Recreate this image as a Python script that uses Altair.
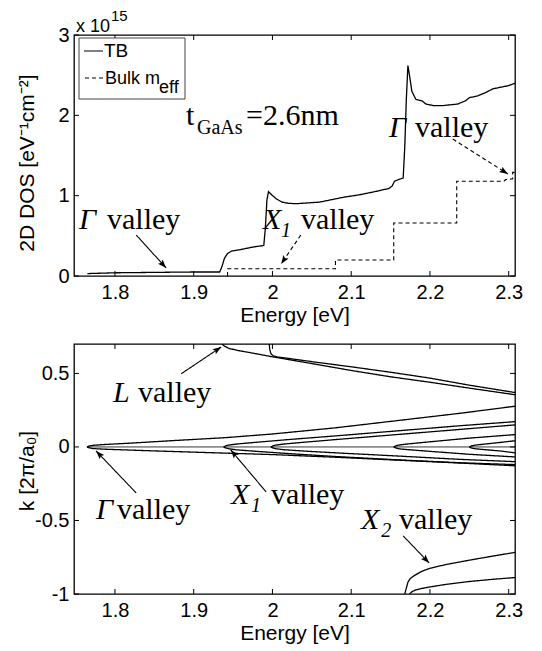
import math
import altair as alt
import pandas as pd

# ---------------- top panel: 2D DOS (units of 1e15 eV^-1 cm^-2) ----------------
tb_E = [1.765, 1.80, 1.85, 1.90, 1.933, 1.936, 1.939, 1.943, 1.948, 1.96, 1.975, 1.989,
        1.991, 1.993, 1.995, 1.999, 2.005, 2.012, 2.02, 2.03, 2.045, 2.06, 2.075, 2.09,
        2.11, 2.13, 2.148, 2.152, 2.155, 2.16, 2.166, 2.168, 2.170, 2.172, 2.174, 2.177,
        2.182, 2.19, 2.195, 2.205, 2.215, 2.225, 2.235, 2.245, 2.25, 2.26, 2.27, 2.28,
        2.29, 2.30, 2.308]
tb_dos = [0.03, 0.04, 0.045, 0.05, 0.05, 0.12, 0.22, 0.28, 0.31, 0.33, 0.36, 0.38,
          0.60, 0.95, 1.05, 1.01, 0.96, 0.92, 0.905, 0.90, 0.91, 0.92, 0.95, 0.98,
          1.01, 1.05, 1.09, 1.12, 1.18, 1.20, 1.22, 1.60, 2.20, 2.62, 2.50, 2.30,
          2.20, 2.18, 2.14, 2.12, 2.12, 2.13, 2.14, 2.18, 2.22, 2.24, 2.28, 2.33,
          2.35, 2.37, 2.40]

bulk_E = [1.943, 1.943, 2.080, 2.080, 2.154, 2.154, 2.234, 2.234, 2.294, 2.296, 2.305, 2.305, 2.308]
bulk_dos = [0.0, 0.09, 0.09, 0.20, 0.20, 0.66, 0.66, 1.18, 1.18, 1.20, 1.21, 1.29, 1.29]

x_ticks = [1.8, 1.9, 2.0, 2.1, 2.2, 2.3]
y_ticks_top = [0, 1, 2, 3]
y_ticks_bot = [-1, -0.5, 0, 0.5]

# ---------------- bottom panel: k(E) curves ----------------
gam_up_E = [1.7645, 1.767, 1.772, 1.785, 1.82, 1.88, 1.94, 2.0, 2.08, 2.16, 2.24, 2.308]
gam_up_k = [0, 0.006, 0.011, 0.016, 0.026, 0.045, 0.063, 0.088, 0.13, 0.18, 0.23, 0.277]
gam_lo_E = [1.7645, 1.767, 1.772, 1.785, 1.85, 1.94, 2.0, 2.08, 2.16, 2.24, 2.308]
gam_lo_k = [0, -0.006, -0.011, -0.015, -0.027, -0.042, -0.052, -0.07, -0.09, -0.11, -0.128]
x1_E = [1.938, 1.9405, 1.945, 1.955, 1.98, 2.02, 2.08, 2.16, 2.24, 2.308]
x1_up_k = [0, 0.007, 0.013, 0.02, 0.032, 0.05, 0.075, 0.11, 0.145, 0.172]
x1_lo_k = [0, -0.007, -0.013, -0.02, -0.03, -0.045, -0.065, -0.088, -0.108, -0.12]
v3_E = [1.998, 2.0005, 2.005, 2.015, 2.04, 2.08, 2.16, 2.24, 2.308]
v3_up_k = [0, 0.007, 0.013, 0.02, 0.032, 0.05, 0.085, 0.12, 0.15]
v3_lo_k = [0, -0.007, -0.013, -0.019, -0.028, -0.04, -0.062, -0.085, -0.1]
v4_E = [2.154, 2.1565, 2.161, 2.171, 2.2, 2.25, 2.308]
v4_up_k = [0, 0.007, 0.013, 0.02, 0.035, 0.06, 0.084]
v4_lo_k = [0, -0.007, -0.013, -0.018, -0.03, -0.05, -0.068]
v5_E = [2.25, 2.2525, 2.257, 2.267, 2.29, 2.308]
v5_up_k = [0, 0.007, 0.012, 0.018, 0.031, 0.042]
v5_lo_k = [0, -0.007, -0.012, -0.017, -0.028, -0.04]
zero_E = [1.7645, 2.308]
zero_k = [0, 0]
l1_E = [1.936, 1.939, 1.945, 1.955, 1.97, 2.0, 2.05, 2.1, 2.15, 2.2, 2.25, 2.308]
l1_k = [0.7, 0.685, 0.67, 0.657, 0.643, 0.613, 0.567, 0.52, 0.477, 0.44, 0.4, 0.355]
l2_E = [1.996, 1.9965, 1.998, 2.001, 2.006, 2.015, 2.05, 2.1, 2.15, 2.2, 2.25, 2.308]
l2_k = [0.7, 0.665, 0.635, 0.62, 0.612, 0.606, 0.58, 0.545, 0.508, 0.468, 0.42, 0.37]
x2a_E = [2.168, 2.170, 2.172, 2.175, 2.18, 2.19, 2.2, 2.22, 2.25, 2.28, 2.308]
x2a_k = [-1.0, -0.96, -0.92, -0.895, -0.875, -0.845, -0.825, -0.8, -0.77, -0.742, -0.717]
x2b_E = [2.174, 2.177, 2.182, 2.19, 2.2, 2.22, 2.25, 2.28, 2.308]
x2b_k = [-1.0, -0.985, -0.972, -0.962, -0.952, -0.935, -0.915, -0.9, -0.888]

# ---------------- annotations (data coordinates) ----------------
top_big_italic = [("Γ", 1.7544, 0.585), ("X", 1.9880, 0.585), ("Γ", 2.1480, 1.73)]
top_big_roman = [("valley", 1.7899, 0.585), ("valley", 2.0363, 0.585),
                 ("valley", 2.1810, 1.73), ("t", 1.8902, 1.88), ("=2.6nm", 1.9664, 1.88)]
top_small_italic = [("1", 2.0110, 0.485)]
top_small_roman = [("GaAs", 1.9042, 1.768)]
top_arrows = [(1.827, 0.51, 1.865, 0.10, "solid"),
              (2.036, 0.51, 2.011, 0.15, "dashed"),
              (2.229, 1.705, 2.299, 1.27, "dashed")]

bot_big_italic = [("L", 1.7975, 0.306), ("Γ", 1.7759, -0.49), ("X", 1.9474, -0.388), ("X", 2.1124, -0.558)]
bot_big_roman = [("valley", 1.8293, 0.306), ("valley", 1.8026, -0.49),
                 ("valley", 1.9982, -0.388), ("valley", 2.1607, -0.558)]
bot_small_italic = [("1", 1.9729, -0.442), ("2", 2.1380, -0.612)]
bot_arrows = [(1.884, 0.497, 1.935, 0.68, "solid"),
              (1.827, -0.313, 1.776, -0.027, "solid"),
              (1.992, -0.306, 1.947, -0.02, "solid"),
              (2.166, -0.605, 2.199, -0.789, "solid")]

# ---------------- layout ----------------
W = 441
H_TOP = 241
H_BOT = 250
X_DOM = [1.748, 2.308]
YT_DOM = [0, 3]
YB_DOM = [-1, 0.7]
SANS = "Liberation Sans"
SERIF = "Liberation Serif"
TICK = 5
HEAD = "M0,0L-0.36,1L0,0.8L0.36,1Z"
BIG = 30
SMALL = 20


def xaxis():
    return alt.Axis(values=x_ticks, title="Energy [eV]", labelExpr="'' + datum.value",
                    labelPadding=6, titlePadding=2, ticks=False, domain=False, grid=False)


def yaxis(vals):
    return alt.Axis(values=vals, title=None, labelExpr="'' + datum.value", labelPadding=5,
                    ticks=False, domain=False, grid=False)


one = pd.DataFrame({"a": [0]})


def txt(s, x, y, size, font=SANS, style="normal", angle=0, align="left"):
    return alt.Chart(one).mark_text(text=s, font=font, fontSize=size, fontStyle=style,
                                    align=align, baseline="alphabetic", color="black",
                                    angle=angle) \
        .encode(x=alt.value(x), y=alt.value(y))


def panel(h, ydom, yvals, ytitle, ty, lines, arrows, big_it, big_rm, sm_it, sm_rm, extra):
    X = alt.X("E:Q", scale=alt.Scale(domain=X_DOM, nice=False, zero=False), axis=xaxis())
    Y = alt.Y("v:Q", scale=alt.Scale(domain=ydom, nice=False, zero=False), axis=yaxis(yvals))
    pxx = W / (X_DOM[1] - X_DOM[0])
    pxy = h / (ydom[1] - ydom[0])
    layers = []
    for df, dash, sw in lines:
        m = alt.Chart(df).mark_line(color="black", strokeWidth=sw, clip=True,
                                    strokeDash=dash if dash else [1, 0])
        layers.append(m.encode(x=X, y=Y, detail="c:N", order="i:Q"))
    # arrows
    for kind in ("solid", "dashed"):
        rows = [a for a in arrows if a[4] == kind]
        if not rows:
            continue
        adf = pd.DataFrame({"E": [r[0] for r in rows], "v": [r[1] for r in rows],
                            "E2": [r[2] for r in rows], "v2": [r[3] for r in rows]})
        layers.append(alt.Chart(adf).mark_rule(color="black", strokeWidth=1.1,
                                               strokeDash=[4, 3] if kind == "dashed" else [1, 0])
                      .encode(x=X, y=Y, x2="E2:Q", y2="v2:Q"))
    hdf = pd.DataFrame({
        "E": [a[2] for a in arrows], "v": [a[3] for a in arrows],
        "ang": [math.degrees(math.atan2((a[2] - a[0]) * pxx, (a[3] - a[1]) * pxy)) % 360 for a in arrows]})
    layers.append(alt.Chart(hdf).mark_point(shape=HEAD, filled=True, color="black", size=300,
                                            opacity=1, strokeWidth=0)
                  .encode(x=X, y=Y, angle=alt.Angle("ang:Q", scale=None)))
    # ticks (inside, all four sides)
    xt = pd.DataFrame({"E": x_ticks})
    yt = pd.DataFrame({"v": yvals})
    rule = dict(color="black", strokeWidth=1)
    layers.append(alt.Chart(xt).mark_rule(**rule).encode(x=X, y=alt.value(h), y2=alt.value(h - TICK)))
    layers.append(alt.Chart(xt).mark_rule(**rule).encode(x=X, y=alt.value(0), y2=alt.value(TICK)))
    layers.append(alt.Chart(yt).mark_rule(**rule).encode(y=Y, x=alt.value(0), x2=alt.value(TICK)))
    layers.append(alt.Chart(yt).mark_rule(**rule).encode(y=Y, x=alt.value(W), x2=alt.value(W - TICK)))
    # annotation texts
    for items, size, style in ((big_it, BIG, "italic"), (big_rm, BIG, "normal"),
                               (sm_it, SMALL, "italic"), (sm_rm, SMALL, "normal")):
        if not items:
            continue
        tdf = pd.DataFrame({"t": [a[0] for a in items], "E": [a[1] for a in items],
                            "v": [a[2] for a in items]})
        layers.append(alt.Chart(tdf).mark_text(font=SERIF, fontSize=size, fontStyle=style,
                                               align="left", baseline="alphabetic", color="black")
                      .encode(x=X, y=Y, text="t:N"))
    # y-axis title
    layers.append(txt(ytitle, -40, ty, 21, angle=270, align="center"))
    layers.extend(extra)
    return alt.layer(*layers).properties(width=W, height=h)


def curve_df(pairs):
    rows = []
    for ci, (es, vs) in enumerate(pairs):
        for i, (e, v) in enumerate(zip(es, vs)):
            rows.append({"c": ci, "i": i, "E": e, "v": v})
    return pd.DataFrame(rows)


legend_layers = [
    alt.Chart(one).mark_rect(fill="white", stroke="#444", strokeWidth=1)
    .encode(x=alt.value(5), x2=alt.value(111), y=alt.value(3), y2=alt.value(64)),
    alt.Chart(one).mark_rule(color="black", strokeWidth=1)
    .encode(x=alt.value(10), x2=alt.value(29), y=alt.value(16)),
    alt.Chart(one).mark_rule(color="black", strokeWidth=1, strokeDash=[4, 3])
    .encode(x=alt.value(11), x2=alt.value(30), y=alt.value(43)),
    txt("TB", 30, 22, 19),
    txt("Bulk m", 31, 49, 18),
    txt("eff", 85, 58, 18),
    txt("x 10", 2, -3, 18),
    txt("15", 37, -14, 15),
]

top_lines = [
    (curve_df([(tb_E, tb_dos)]), None, 1.3),
    (curve_df([(bulk_E, bulk_dos)]), [4, 3], 1.1),
]
top = panel(H_TOP, YT_DOM, y_ticks_top, "2D DOS [eV⁻¹cm⁻²]", 128, top_lines, top_arrows,
            top_big_italic, top_big_roman, top_small_italic, top_small_roman, legend_layers)

bot_lines = [
    (curve_df([(gam_up_E, gam_up_k), (gam_lo_E, gam_lo_k), (x1_E, x1_up_k), (x1_E, x1_lo_k),
               (v3_E, v3_up_k), (v3_E, v3_lo_k), (v4_E, v4_up_k), (v4_E, v4_lo_k),
               (v5_E, v5_up_k), (v5_E, v5_lo_k), (l1_E, l1_k), (l2_E, l2_k),
               (x2a_E, x2a_k), (x2b_E, x2b_k)]), None, 1.3),
    (curve_df([(zero_E, zero_k)]), None, 0.8),
]
bot = panel(H_BOT, YB_DOM, y_ticks_bot, "k [2π/a₀]", 127, bot_lines, bot_arrows,
            bot_big_italic, bot_big_roman, bot_small_italic, [], [])

chart = alt.vconcat(top, bot, spacing=16).properties(
    padding={"left": 8, "top": 0, "right": 0, "bottom": 0}, background="white"
).configure_view(stroke="black", strokeWidth=1.3).configure_axis(
    labelFont=SANS, labelFontSize=20, labelColor="black",
    titleFont=SANS, titleFontSize=21, titleFontWeight="normal", titleColor="black"
)

chart.save("out.html", embed_options={"renderer": "svg", "actions": False})
